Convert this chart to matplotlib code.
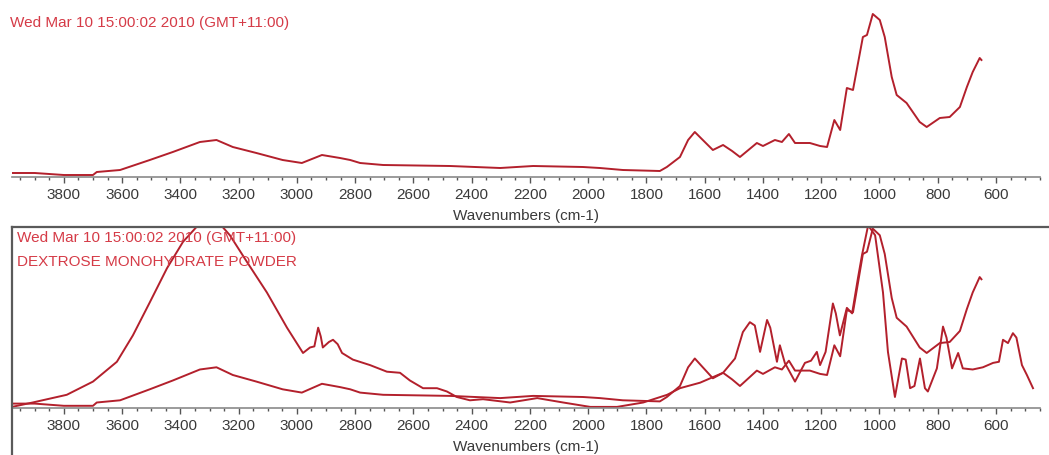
import matplotlib
matplotlib.use("Agg")
import matplotlib.pyplot as plt
from matplotlib.lines import Line2D
from matplotlib.ticker import MultipleLocator

# sample spectrum (top pane, also overlaid in the bottom pane)
wn_sample = [3978, 3900, 3800, 3700, 3687, 3607, 3505, 3426, 3333, 3276, 3220, 3139,
             3049, 2983, 2914, 2852, 2817, 2783, 2704, 2474, 2302, 2189, 2018, 1960,
             1881, 1754, 1730, 1685, 1657, 1634, 1610, 1572, 1537, 1506, 1479, 1450,
             1421, 1400, 1359, 1335, 1311, 1290, 1239, 1204, 1180, 1155, 1135, 1112,
             1091, 1057, 1043, 1023, 999, 982, 958, 941, 907, 862, 838, 793, 759, 724,
             700, 680, 656, 650]
abs_sample = [0.04, 0.04, 0.02, 0.02, 0.05, 0.07, 0.17, 0.25, 0.35, 0.37, 0.30, 0.24,
              0.17, 0.14, 0.22, 0.19, 0.17, 0.14, 0.12, 0.11, 0.09, 0.11, 0.10, 0.09,
              0.07, 0.06, 0.10, 0.20, 0.37, 0.45, 0.38, 0.27, 0.32, 0.26, 0.20, 0.27,
              0.34, 0.31, 0.37, 0.35, 0.43, 0.34, 0.34, 0.31, 0.30, 0.57, 0.47, 0.89,
              0.87, 1.40, 1.42, 1.63, 1.57, 1.40, 1.00, 0.82, 0.74, 0.55, 0.50, 0.59,
              0.60, 0.70, 0.90, 1.05, 1.19, 1.17]

# dextrose monohydrate reference spectrum (bottom pane)
wn_dextrose = [3978, 3907, 3790, 3700, 3618, 3563, 3505, 3446, 3391, 3343, 3300, 3260,
               3230, 3172, 3103, 3034, 2979, 2955, 2940, 2927, 2918, 2911, 2890, 2876,
               2860, 2845, 2808, 2749, 2691, 2646, 2612, 2567, 2519, 2485, 2451, 2406,
               2361, 2268, 2175, 2086, 1993, 1901, 1811, 1729, 1685, 1616, 1537, 1496,
               1469, 1445, 1428, 1410, 1386, 1375, 1352, 1342, 1325, 1290, 1256, 1235,
               1215, 1204, 1185, 1160, 1150, 1136, 1112, 1094, 1074, 1060, 1039, 1015,
               988, 971, 947, 923, 910, 895, 880, 861, 844, 834, 803, 782, 770, 751,
               730, 714, 680, 645, 610, 590, 576, 559, 542, 530, 511, 494, 473]
abs_dextrose = [0.01, 0.05, 0.12, 0.24, 0.42, 0.66, 0.96, 1.27, 1.51, 1.65, 1.70, 1.66,
                1.57, 1.33, 1.05, 0.73, 0.50, 0.55, 0.56, 0.73, 0.65, 0.55, 0.60, 0.62,
                0.58, 0.50, 0.44, 0.39, 0.33, 0.32, 0.25, 0.18, 0.18, 0.15, 0.10, 0.07,
                0.08, 0.05, 0.09, 0.05, 0.01, 0.01, 0.05, 0.12, 0.18, 0.23, 0.32, 0.45,
                0.69, 0.78, 0.75, 0.51, 0.80, 0.73, 0.42, 0.57, 0.41, 0.24, 0.41, 0.43,
                0.51, 0.39, 0.51, 0.95, 0.86, 0.66, 0.91, 0.86, 1.18, 1.39, 1.66, 1.57,
                1.05, 0.51, 0.10, 0.45, 0.44, 0.18, 0.20, 0.45, 0.18, 0.15, 0.36, 0.74,
                0.64, 0.36, 0.50, 0.36, 0.35, 0.37, 0.41, 0.42, 0.62, 0.59, 0.68, 0.64,
                0.39, 0.30, 0.18]

stamp = "Wed Mar 10 15:00:02 2010 (GMT+11:00)"
sample_name = "DEXTROSE MONOHYDRATE POWDER"
x_label = "Wavenumbers (cm-1)"
x_ticks = [3800, 3600, 3400, 3200, 3000, 2800, 2600, 2400, 2200, 2000,
           1800, 1600, 1400, 1200, 1000, 800, 600]

line_col = "#b3202c"
text_col = "#d53b47"
fonts = ["Liberation Sans Narrow", "Liberation Sans", "DejaVu Sans"]
plt.rcParams["font.family"] = fonts

W, H = 1049, 455
fig = plt.figure(figsize=(W / 100, H / 100), dpi=100)


def px_axes(left, top, right, bottom):
    return fig.add_axes([left / W, 1 - bottom / H, (right - left) / W, (bottom - top) / H])


def style_axis(ax):
    ax.set_xlim(3978, 449)
    for side in ("top", "left", "right"):
        ax.spines[side].set_visible(False)
    ax.spines["bottom"].set_color("#8a8a8a")
    ax.spines["bottom"].set_linewidth(1.2)
    ax.set_yticks([])
    ax.set_xticks(x_ticks)
    ax.xaxis.set_minor_locator(MultipleLocator(50))
    # OMNIC style: long ticks at labels, short marks in between, all pointing down
    ax.tick_params(axis="x", which="major", direction="out", length=4, width=1,
                   color="#555555", labelsize=11, labelcolor="#3a3a3a", pad=4)
    ax.tick_params(axis="x", which="minor", direction="out", length=2, width=1,
                   color="#555555")
    ax.set_xlabel(x_label, fontsize=11, color="#3a3a3a", labelpad=5)
    ax.patch.set_alpha(0)


# top pane
ax1 = px_axes(12, 8, 1040, 177)
style_axis(ax1)
ax1.set_ylim(0, 1.69)
ax1.plot(wn_sample, abs_sample, color=line_col, lw=1.4)
fig.text(10 / W, 1 - 23 / H, stamp, color=text_col, fontsize=11, va="center", ha="left")

# bottom pane
ax2 = px_axes(12, 227, 1040, 408)
style_axis(ax2)
ax2.set_ylim(0, 1.645)
ax2.plot(wn_sample, abs_sample, color=line_col, lw=1.4)
ax2.plot(wn_dextrose, abs_dextrose, color=line_col, lw=1.4)
fig.text(17 / W, 1 - 238 / H, stamp, color=text_col, fontsize=11, va="center", ha="left")
fig.text(17 / W, 1 - 262 / H, sample_name, color=text_col, fontsize=11, va="center", ha="left")

# frame of the selected pane
fig.add_artist(Line2D([12 / W, 1], [1 - 227 / H, 1 - 227 / H], color="#5a5a5a", lw=1.6))
fig.add_artist(Line2D([12 / W, 12 / W], [1 - 227 / H, 0], color="#5a5a5a", lw=1.6))

fig.savefig("out.png", dpi=100)
